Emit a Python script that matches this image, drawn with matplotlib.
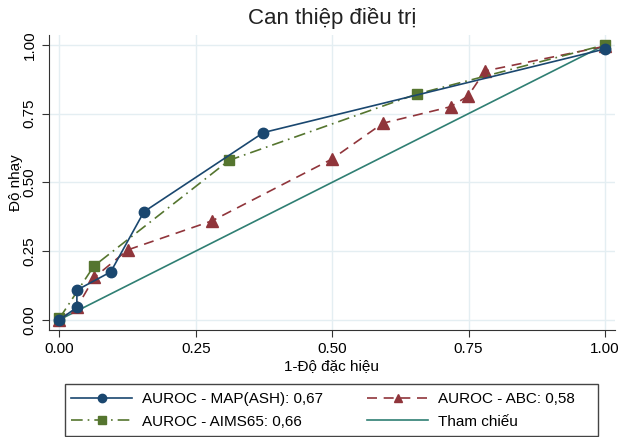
import matplotlib.pyplot as plt
from matplotlib.patches import Rectangle

plt.rcParams['font.family'] = ['Liberation Sans', 'DejaVu Sans']

# 1-specificity / sensitivity
map_x = [0.0, 0.032, 0.032, 0.094, 0.155, 0.374, 1.0]
map_y = [0.0, 0.045, 0.108, 0.174, 0.393, 0.681, 0.985]

abc_x = [0.0, 0.032, 0.064, 0.125, 0.280, 0.499, 0.593, 0.717, 0.749, 0.780, 1.0]
abc_y = [0.0, 0.045, 0.154, 0.254, 0.360, 0.584, 0.715, 0.775, 0.814, 0.905, 0.995]

aims_x = [0.0, 0.063, 0.311, 0.655, 1.0]
aims_y = [0.005, 0.195, 0.580, 0.821, 1.0]

ref_x = [0.0, 1.0]
ref_y = [0.0, 1.0]

ticks = [0.0, 0.25, 0.5, 0.75, 1.0]
tick_labels = ['0.00', '0.25', '0.50', '0.75', '1.00']

navy = '#1a476f'
maroon = '#90353b'
green = '#55752f'
teal = '#2f7f73'

fig = plt.figure(figsize=(6.21, 4.37), dpi=100)
ax = fig.add_axes([0.079, 0.245, 0.911, 0.675])

l1, = ax.plot(map_x, map_y, color=navy, lw=1.2, marker='o', ms=7.5, zorder=5)
l2, = ax.plot(abc_x, abc_y, color=maroon, lw=1.2, ls=(0, (6, 4)), marker='^', ms=8, zorder=4)
l3, = ax.plot(aims_x, aims_y, color=green, lw=1.2, ls=(0, (7, 3, 1, 3)), marker='s', ms=7, zorder=4)
l4, = ax.plot(ref_x, ref_y, color=teal, lw=1.2, zorder=3)

ax.set_xlim(-0.019, 1.018)
ax.set_ylim(-0.037, 1.036)
ax.set_xticks(ticks)
ax.set_xticklabels(tick_labels)
ax.set_yticks(ticks)
ax.set_yticklabels(tick_labels, rotation=90, va='center')
ax.tick_params(labelsize=11, length=5, color='#333333', direction='out', pad=4)
ax.grid(True, color='#e4eef2', lw=1)
ax.set_axisbelow(True)
for s in ['top', 'right']:
    ax.spines[s].set_visible(False)
for s in ['left', 'bottom']:
    ax.spines[s].set_color('#333333')

ax.set_title('Can thiệp điều trị', fontsize=16, color='#222222', pad=8)
ax.set_xlabel('1-Độ đặc hiệu', fontsize=11, labelpad=2)
ax.set_ylabel('Độ nhạy', fontsize=11, labelpad=0)

# legend box drawn separately so the padding matches
fig.patches.append(Rectangle((65 / 621, 1 / 437), 533 / 621, 52 / 437,
                             transform=fig.transFigure, fill=False,
                             edgecolor='#444444', lw=1.0))
leg = fig.legend([l1, l3, l2, l4],
                 ['AUROC - MAP(ASH): 0,67', 'AUROC - AIMS65: 0,66',
                  'AUROC - ABC: 0,58', 'Tham chiếu'],
                 ncol=2, loc='center left', bbox_to_anchor=(71 / 621, 1 - 410.5 / 437),
                 fontsize=11, handlelength=4.0, handletextpad=0.65, columnspacing=2.88,
                 frameon=False, borderpad=0, borderaxespad=0, labelspacing=0.55,
                 markerscale=0.8)

fig.savefig('out.png', dpi=100)
